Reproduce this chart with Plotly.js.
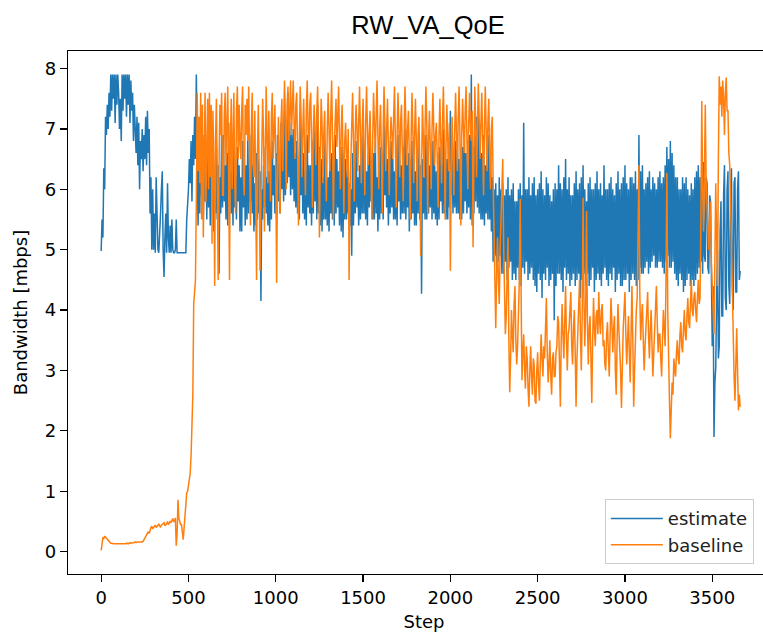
<!DOCTYPE html>
<html>
<head>
<meta charset="utf-8">
<script src="https://cdn.plot.ly/plotly-3.0.1.min.js"></script>
<style>
html, body { margin: 0; padding: 0; overflow: hidden; background: white; }
#chart { width: 800px; height: 639px; }
</style>
</head>
<body>
<div id="chart"></div>
<script>
// Sampled every 5 steps (step = index * 5)
const STEP_SIZE = 5;

const estimate = [
  4.98, 5.5, 5.2, 6.35, 6.0, 7.2, 6.9, 7.4, 7.0, 7.6, 7.2, 7.9, 7.3, 7.9, 7.5, 7.9, 7.1, 7.9, 7.4, 7.9,
  7.6, 7.0, 7.5, 6.8, 7.9, 7.3, 7.9, 7.5, 7.9, 7.2, 7.9, 7.4, 7.9, 7.1, 7.8, 7.3, 7.6, 6.8, 7.4, 7.0,
  6.6, 7.2, 6.4, 7.1, 6.0, 6.8, 6.5, 7.0, 6.3, 6.9, 6.5, 7.2, 6.4, 7.3, 6.6, 7.0, 5.6, 6.2, 5.0, 6.0,
  5.0, 5.6, 4.95, 6.2, 5.3, 5.0, 4.95, 5.5, 5.6, 6.0, 6.3, 5.0, 4.55, 5.2, 5.6, 4.95, 6.1, 5.2, 4.95, 5.4,
  4.95, 5.5, 5.0, 4.95, 4.95, 5.0, 5.5, 4.95, 4.95, 4.95, 4.95, 4.95, 4.95, 4.95, 4.95, 4.95, 4.95, 4.95, 5.5, 5.7,
  6.0, 6.5, 6.1, 6.8, 5.8, 6.9, 6.4, 7.2, 6.5, 7.9, 6.2, 5.4, 6.6, 5.6, 6.8, 5.9, 6.4, 5.5, 6.9, 5.8,
  6.6, 5.5, 6.9, 5.7, 6.3, 5.4, 6.5, 5.9, 6.8, 5.3, 6.2, 5.6, 6.7, 5.5, 6.4, 4.6, 6.2, 5.6, 6.9, 5.7,
  6.9, 5.8, 6.4, 5.5, 6.6, 5.4, 7.1, 5.9, 6.3, 5.6, 6.5, 5.4, 6.8, 5.7, 6.2, 5.5, 6.7, 5.8, 6.4, 5.3,
  6.2, 5.3, 6.8, 5.7, 6.5, 5.4, 6.4, 5.5, 6.9, 5.6, 6.3, 5.8, 6.9, 5.6, 6.4, 5.3, 6.1, 5.4, 6.6, 5.5,
  6.5, 5.6, 6.3, 4.15, 6.0, 5.5, 6.4, 5.7, 6.7, 5.6, 6.2, 5.4, 6.3, 5.3, 6.6, 5.5, 6.8, 5.9, 6.4, 5.6,
  6.6, 5.5, 6.9, 5.8, 6.5, 5.6, 7.1, 6.0, 6.7, 5.8, 7.3, 5.9, 6.8, 6.1, 7.6, 6.2, 7.1, 5.9, 6.9, 6.0,
  7.0, 5.8, 6.6, 5.7, 6.8, 5.6, 6.5, 5.5, 7.2, 5.9, 6.7, 5.6, 6.6, 5.5, 6.3, 5.4, 6.9, 5.7, 6.4, 5.6,
  6.4, 5.4, 6.8, 5.6, 7.1, 5.8, 6.6, 5.5, 7.4, 5.6, 6.7, 5.4, 6.5, 5.3, 6.2, 5.5, 6.8, 5.5, 6.3, 5.4,
  6.2, 5.3, 6.5, 5.6, 6.6, 5.5, 6.4, 5.4, 6.9, 5.6, 6.5, 5.7, 6.3, 5.4, 6.6, 5.3, 6.7, 5.2, 6.2, 5.5,
  6.5, 5.5, 6.3, 5.6, 6.1, 5.4, 6.0, 4.9, 6.6, 5.4, 6.4, 5.6, 6.8, 5.7, 6.2, 5.4, 6.4, 5.5, 6.7, 5.6,
  6.9, 5.6, 6.5, 5.5, 6.3, 5.4, 6.6, 5.7, 7.0, 5.8, 6.4, 5.5, 6.6, 5.5, 6.8, 5.6, 6.2, 5.3, 6.5, 5.5,
  6.7, 5.6, 6.4, 5.5, 7.1, 5.9, 6.6, 5.7, 6.5, 5.4, 6.3, 5.6, 6.8, 5.7, 6.5, 5.5, 6.3, 5.5, 6.6, 5.4,
  6.9, 5.8, 6.5, 5.5, 6.4, 5.6, 6.7, 5.6, 7.0, 5.5, 6.4, 5.7, 6.6, 5.3, 6.3, 5.5, 6.8, 5.6, 6.5, 5.4,
  6.3, 5.4, 6.6, 5.6, 6.7, 5.5, 6.4, 4.27, 6.5, 5.6, 6.2, 5.5, 6.9, 5.5, 6.6, 5.6, 6.4, 5.7, 6.7, 5.5,
  6.8, 5.6, 6.4, 5.5, 6.3, 5.4, 6.6, 5.5, 6.7, 5.8, 6.4, 5.6, 7.0, 5.6, 6.6, 5.5, 6.5, 5.5, 6.8, 5.7,
  7.3, 5.9, 6.7, 5.6, 6.6, 5.7, 6.8, 5.6, 6.9, 5.6, 6.5, 5.5, 6.4, 5.5, 6.7, 5.6, 6.8, 5.8, 6.6, 5.6,
  6.5, 5.7, 6.9, 5.5, 7.9, 5.4, 6.7, 5.6, 6.9, 5.8, 7.2, 5.7, 7.2, 5.6, 6.8, 5.5, 6.6, 5.5, 6.9, 5.4,
  6.4, 5.6, 6.7, 5.5, 6.9, 5.5, 6.6, 5.3, 6.2, 4.8, 6.0, 4.9, 6.1, 4.7, 5.9, 4.8, 6.2, 4.9, 6.0, 4.6,
  6.1, 4.6, 5.9, 4.8, 6.0, 4.5, 6.2, 4.7, 5.9, 4.8, 6.0, 4.5, 6.1, 4.6, 5.8, 4.5, 5.8, 4.7, 6.0, 4.5,
  6.1, 4.4, 5.9, 4.7, 7.1, 4.6, 6.0, 4.8, 6.0, 4.5, 6.2, 4.6, 5.9, 4.7, 6.1, 4.5, 6.2, 4.4, 5.9, 4.3,
  6.0, 4.6, 6.1, 4.5, 6.3, 4.2, 6.0, 4.6, 5.9, 4.5, 6.2, 4.7, 6.1, 4.4, 5.9, 4.5, 5.8, 4.6, 6.0, 3.83,
  6.1, 4.4, 6.0, 4.6, 6.4, 4.6, 6.1, 4.5, 6.0, 4.3, 6.2, 4.7, 6.5, 4.5, 6.0, 4.6, 6.2, 4.4, 5.9, 4.5,
  5.9, 4.6, 6.1, 4.4, 6.3, 4.5, 6.0, 4.6, 6.1, 4.2, 6.2, 4.5, 6.4, 4.6, 6.0, 4.4, 5.8, 4.6, 6.1, 4.4,
  6.2, 4.5, 6.0, 4.7, 6.0, 4.3, 6.1, 4.5, 6.3, 4.6, 6.0, 4.5, 6.1, 4.4, 5.9, 4.6, 6.4, 4.7, 6.0, 4.5,
  6.0, 4.4, 6.1, 4.6, 6.2, 4.5, 6.0, 4.7, 5.9, 4.3, 6.1, 4.5, 6.3, 4.6, 6.0, 4.4, 6.1, 4.4, 6.2, 4.5,
  6.4, 4.5, 6.1, 4.6, 6.0, 4.3, 6.2, 4.5, 6.2, 4.6, 6.1, 4.5, 6.3, 4.4, 6.0, 4.5, 6.9, 4.7, 6.3, 4.6,
  6.4, 4.6, 6.0, 4.7, 6.1, 4.8, 6.2, 4.6, 6.3, 4.7, 6.0, 4.8, 6.2, 4.9, 6.1, 4.7, 6.0, 4.7, 6.2, 4.8,
  6.3, 4.8, 6.1, 4.7, 6.2, 4.6, 6.4, 4.8, 6.7, 4.9, 6.5, 4.7, 6.8, 4.7, 6.6, 4.8, 6.4, 4.6, 6.2, 4.5,
  6.2, 4.4, 6.0, 4.6, 6.0, 4.5, 6.2, 4.3, 6.1, 4.4, 6.2, 4.5, 6.0, 4.6, 5.9, 4.4, 6.1, 4.5, 6.0, 4.4,
  6.2, 4.5, 6.3, 4.6, 6.4, 4.7, 6.2, 4.8, 6.3, 4.6, 6.45, 4.9, 4.8, 6.2, 6.1, 4.7, 4.6, 5.9, 5.8, 4.8,
  3.4, 4.4, 1.9, 2.8, 3.05, 4.2, 5.0, 3.2, 3.4, 5.3, 5.8, 3.9, 3.9, 5.9, 6.4, 4.2, 4.0, 6.0, 6.3, 4.4,
  4.1, 6.0, 6.35, 4.4, 4.0, 6.1, 6.2, 4.3, 4.3, 6.0, 6.3, 4.5, 4.65
];

const baseline = [
  0.02, 0.1, 0.23, 0.22, 0.25, 0.24, 0.22, 0.2, 0.18, 0.16, 0.15, 0.14, 0.14, 0.13, 0.13, 0.13, 0.13, 0.13, 0.13, 0.13,
  0.13, 0.13, 0.13, 0.12, 0.13, 0.13, 0.13, 0.13, 0.13, 0.14, 0.13, 0.13, 0.14, 0.15, 0.14, 0.14, 0.15, 0.15, 0.15, 0.16,
  0.15, 0.16, 0.16, 0.15, 0.16, 0.15, 0.15, 0.16, 0.17, 0.2, 0.22, 0.25, 0.27, 0.3, 0.33, 0.3, 0.36, 0.4, 0.42, 0.38,
  0.4, 0.43, 0.44, 0.4, 0.42, 0.45, 0.46, 0.42, 0.41, 0.44, 0.45, 0.47, 0.48, 0.43, 0.44, 0.46, 0.5, 0.45, 0.47, 0.5,
  0.48, 0.52, 0.55, 0.5, 0.5, 0.56, 0.1, 0.3, 0.86, 0.55, 0.5, 0.45, 0.45, 0.3, 0.2, 0.4, 0.6, 0.75, 0.97, 1.0,
  1.1, 1.2, 1.3, 1.6, 2.0, 2.6, 4.1, 4.3, 4.5, 5.8, 7.6, 6.3, 7.2, 6.1, 7.6, 5.5, 7.4, 5.2, 6.8, 7.6,
  5.8, 6.6, 7.5, 6.0, 7.6, 6.2, 7.4, 5.1, 7.3, 6.5, 4.4, 6.8, 7.5, 6.1, 4.5, 6.4, 7.4, 6.9, 7.6, 5.9,
  5.9, 7.2, 7.6, 6.4, 7.1, 7.7, 6.3, 4.5, 6.8, 7.5, 6.0, 7.2, 7.6, 6.1, 5.6, 7.3, 7.7, 6.5, 7.4, 6.8,
  6.5, 7.3, 7.7, 6.2, 5.9, 7.4, 6.9, 7.5, 6.8, 7.7, 6.1, 5.4, 7.0, 7.6, 6.4, 6.2, 7.3, 5.8, 4.5, 6.6,
  7.4, 6.3, 4.65, 5.8, 6.6, 7.5, 6.9, 5.3, 6.4, 7.7, 6.8, 6.1, 7.3, 6.6, 5.8, 7.2, 7.6, 6.5, 6.9, 7.4,
  6.4, 4.45, 6.1, 7.2, 6.6, 5.6, 7.1, 7.5, 6.3, 6.9, 7.8, 7.2, 6.0, 7.4, 7.7, 6.8, 7.3, 7.8, 6.9, 7.5,
  7.8, 7.1, 6.5, 7.4, 7.6, 6.6, 5.4, 6.8, 7.7, 7.2, 6.2, 7.0, 7.5, 6.6, 5.9, 7.3, 7.8, 7.0, 6.6, 7.4,
  7.6, 6.8, 5.7, 7.0, 7.4, 6.9, 6.4, 7.3, 7.7, 6.7, 5.2, 6.6, 7.5, 7.1, 6.1, 6.9, 7.3, 6.4, 5.8, 7.0,
  7.6, 7.0, 6.3, 7.2, 7.8, 6.9, 5.5, 6.7, 7.2, 7.5, 6.7, 7.1, 7.7, 6.8, 6.0, 7.0, 7.4, 6.6, 5.6, 6.8,
  7.1, 6.6, 6.2, 7.0, 4.5, 5.9, 6.5, 7.2, 7.6, 6.8, 5.8, 6.9, 7.4, 7.0, 6.3, 7.1, 7.7, 6.9, 6.1, 7.0,
  7.5, 6.7, 5.9, 7.1, 7.7, 7.0, 6.4, 6.9, 7.3, 6.5, 5.5, 6.8, 7.6, 7.1, 6.6, 7.2, 7.8, 6.9, 6.0, 7.0,
  7.4, 6.6, 5.6, 6.9, 7.7, 7.1, 6.3, 7.0, 7.5, 6.7, 5.9, 6.8, 7.2, 6.9, 6.5, 7.2, 7.7, 6.8, 5.7, 6.9,
  7.6, 7.0, 6.2, 7.1, 7.4, 6.6, 5.8, 6.9, 7.7, 7.1, 6.4, 7.0, 7.3, 6.5, 5.5, 6.8, 7.6, 7.0, 6.1, 6.9,
  7.5, 6.8, 5.8, 6.9, 7.2, 6.4, 4.9, 6.3, 7.4, 6.9, 6.2, 7.0, 7.7, 7.1, 5.6, 6.8, 7.3, 6.7, 6.0, 7.0,
  7.6, 7.0, 6.4, 6.9, 7.1, 6.5, 5.7, 6.9, 7.5, 6.8, 6.1, 7.1, 7.7, 6.9, 5.5, 6.7, 7.4, 6.8, 6.3, 7.1,
  4.65, 6.2, 7.2, 6.6, 5.9, 7.0, 7.6, 6.9, 6.3, 7.2, 7.7, 6.8, 5.4, 6.9, 7.5, 7.0, 6.6, 7.3, 7.7, 6.8,
  6.0, 7.1, 7.6, 7.0, 6.8, 7.3, 5.04, 6.5, 7.7, 7.1, 6.2, 7.0, 7.75, 7.2, 6.5, 7.1, 7.6, 6.8, 5.9, 7.0,
  7.7, 7.0, 6.3, 7.1, 7.5, 6.6, 6.0, 7.0, 7.2, 6.1, 5.0, 4.2, 3.7, 4.6, 5.2, 4.5, 4.1, 5.0, 5.6, 6.0,
  6.5, 5.1, 4.2, 3.6, 3.9, 4.8, 5.2, 3.5, 2.64, 3.2, 4.0, 3.6, 3.3, 4.1, 4.4, 3.5, 3.1, 3.4, 3.8, 4.5,
  5.84, 3.6, 2.84, 3.3, 3.6, 3.0, 2.7, 3.4, 3.2, 2.7, 2.4, 3.0, 3.4, 2.9, 2.6, 3.2, 3.1, 2.5, 2.45, 3.0,
  3.3, 2.8, 2.5, 3.1, 3.6, 3.2, 2.9, 3.4, 3.2, 3.7, 4.2, 3.3, 2.8, 3.1, 3.5, 2.9, 2.6, 3.2, 3.3, 2.9,
  2.9, 3.3, 3.4, 3.9, 3.8, 3.1, 2.4, 3.5, 4.1, 3.6, 3.2, 3.8, 4.4, 3.5, 3.0, 3.6, 3.7, 4.0, 4.3, 3.4,
  3.1, 3.7, 4.0, 3.3, 2.4, 3.2, 3.6, 4.1, 4.5, 3.6, 3.0, 3.9, 5.86, 4.2, 3.4, 4.0, 5.64, 3.8, 3.1, 3.7,
  3.9, 3.2, 2.46, 3.5, 4.2, 3.7, 3.4, 3.9, 4.0, 3.6, 4.3, 3.8, 3.6, 4.0, 4.1, 3.4, 3.5, 3.1, 3.0, 3.6,
  3.8, 3.3, 2.9, 3.6, 4.2, 3.8, 3.3, 3.7, 3.9, 3.0, 2.6, 3.5, 4.1, 3.7, 3.4, 3.0, 2.38, 3.2, 3.7, 4.0,
  4.3, 3.6, 3.1, 3.5, 3.9, 3.3, 2.8, 3.6, 4.4, 3.5, 2.4, 3.0, 3.6, 4.0, 4.2, 5.2, 6.4, 4.3, 3.5, 3.9,
  4.1, 3.5, 3.0, 3.4, 3.8, 4.1, 4.3, 3.6, 3.2, 3.7, 4.0, 3.4, 2.9, 3.3, 3.7, 4.1, 4.4, 3.8, 3.3, 3.6,
  3.6, 3.2, 2.9, 3.5, 4.0, 3.7, 3.4, 4.5, 6.27, 4.0, 3.0, 2.5, 1.88, 2.3, 2.8, 2.6, 3.2, 3.0, 2.9, 3.3,
  3.5, 3.2, 3.1, 3.6, 3.8, 3.4, 3.3, 3.7, 4.0, 3.6, 3.5, 3.9, 4.2, 3.8, 3.7, 4.1, 4.5, 4.0, 3.9, 4.2,
  4.3, 4.0, 3.8, 4.2, 4.5, 4.1, 4.2, 5.5, 7.46, 6.0, 5.3, 6.2, 7.4, 6.1, 5.6, 5.2, 5.0, 5.5, 5.8, 4.8,
  4.3, 3.9, 3.6, 4.8, 6.1, 5.2, 4.4, 6.5, 7.87, 7.4, 7.7, 7.2, 7.8, 7.5, 6.9, 7.6, 7.85, 7.3, 7.3, 6.6,
  6.4, 5.8, 5.0, 4.2, 3.4, 2.9, 2.5, 3.1, 3.7, 3.0, 2.34, 2.6, 2.4
];

const xTickVals = [0, 500, 1000, 1500, 2000, 2500, 3000, 3500];
const yTickVals = [0, 1, 2, 3, 4, 5, 6, 7, 8];
const seriesNames = ['estimate', 'baseline'];
const seriesColors = ['#1f77b4', '#ff7f0e'];

const stepsOf = arr => arr.map((_, i) => i * STEP_SIZE);

const tickFont = {family: 'DejaVu Sans', size: 18, color: 'black'};

const traces = [estimate, baseline].map((vals, k) => ({
  type: 'scatter',
  mode: 'lines',
  x: stepsOf(vals),
  y: vals,
  name: seriesNames[k],
  line: {color: seriesColors[k], width: 1.5}
}));

const axisCommon = {
  showgrid: false,
  zeroline: false,
  showline: true,
  mirror: true,
  linecolor: 'black',
  linewidth: 1.2,
  ticks: 'outside',
  ticklen: 7,
  tickwidth: 1.2,
  tickcolor: 'black',
  tickfont: tickFont
};

const layout = {
  width: 800,
  height: 639,
  margin: {l: 68, r: 20, t: 51, b: 65},
  paper_bgcolor: 'white',
  plot_bgcolor: 'white',
  title: {
    text: 'RW_VA_QoE',
    font: {family: 'Liberation Sans, Arial, sans-serif', size: 25.5, color: 'black'},
    xref: 'container', x: 0.535, xanchor: 'center',
    yref: 'container', y: 0.961, yanchor: 'middle'
  },
  xaxis: Object.assign({}, axisCommon, {
    range: [-190, 3888],
    tickvals: xTickVals,
    ticktext: xTickVals.map(String),
    title: {text: 'Step', font: tickFont, standoff: 8}
  }),
  yaxis: Object.assign({}, axisCommon, {
    range: [-0.37, 8.29],
    tickvals: yTickVals,
    ticktext: yTickVals.map(String),
    title: {text: 'Bandwidth [mbps]', font: tickFont, standoff: 12}
  }),
  showlegend: true,
  legend: {
    x: 0.754, y: 0.143, xanchor: 'left', yanchor: 'top',
    xref: 'paper', yref: 'paper',
    font: {family: 'DejaVu Sans', size: 18, color: '#222'},
    bgcolor: 'rgba(255,255,255,0.8)',
    bordercolor: '#cccccc',
    borderwidth: 1,
    itemwidth: 52,
    entrywidth: 150,
    entrywidthmode: 'pixels'
  }
};

Plotly.newPlot('chart', traces, layout, {staticPlot: true, displayModeBar: false});
</script>
</body>
</html>
